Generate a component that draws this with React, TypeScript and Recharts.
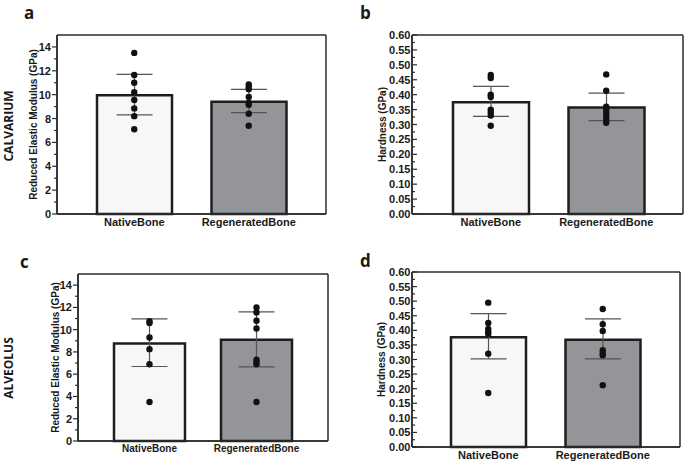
import React from "react";
import {
	ComposedChart,
	Bar,
	Scatter,
	ErrorBar,
	XAxis,
	YAxis,
	CartesianGrid,
	Cell,
} from "recharts";

const groups = ["NativeBone", "RegeneratedBone"];
const barFills = ["#f7f7f7", "#939598"];

// a - calvarium, reduced elastic modulus
const calvModMean = [9.95, 9.4];
const calvModErr = [
	[1.65, 1.75],
	[0.9, 1.05],
];
const calvModNative = [13.5, 11.65, 11.0, 10.2, 9.55, 8.85, 8.2, 7.1];
const calvModRegen = [10.85, 10.65, 10.45, 9.8, 9.3, 9.15, 8.4, 7.4];

// b - calvarium, hardness
const calvHardMean = [0.375, 0.357];
const calvHardErr = [
	[0.048, 0.053],
	[0.044, 0.048],
];
const calvHardNative = [0.466, 0.456, 0.4, 0.392, 0.35, 0.34, 0.33, 0.296];
const calvHardRegen = [0.468, 0.413, 0.36, 0.35, 0.34, 0.328, 0.317, 0.306];

// c - alveolus, reduced elastic modulus
const alvModMean = [8.76, 9.1];
const alvModErr = [
	[2.07, 2.21],
	[2.44, 2.5],
];
const alvModNative = [10.75, 10.6, 9.3, 8.25, 6.9, 3.5];
const alvModRegen = [12.0, 11.55, 10.8, 10.1, 7.3, 7.1, 6.9, 3.5];

// d - alveolus, hardness
const alvHardMean = [0.376, 0.368];
const alvHardErr = [
	[0.074, 0.081],
	[0.066, 0.071],
];
const alvHardNative = [0.495, 0.425, 0.405, 0.395, 0.388, 0.32, 0.185];
const alvHardRegen = [0.473, 0.421, 0.398, 0.332, 0.322, 0.315, 0.212];

// axis ticks
const modTicks = [0, 1, 2, 3, 4, 5, 6, 7, 8, 9, 10, 11, 12, 13, 14];
const modMajor = [0, 2, 4, 6, 8, 10, 12, 14];
const hardTicks = [
	0, 0.025, 0.05, 0.075, 0.1, 0.125, 0.15, 0.175, 0.2, 0.225, 0.25, 0.275, 0.3,
	0.325, 0.35, 0.375, 0.4, 0.425, 0.45, 0.475, 0.5, 0.525, 0.55, 0.575, 0.6,
];
const hardMajor = [
	0, 0.05, 0.1, 0.15, 0.2, 0.25, 0.3, 0.35, 0.4, 0.45, 0.5, 0.55, 0.6,
];

const INK = "#1a1a1a";
const FRAME = "#2b2b2b";
const FONT = "'Liberation Sans', Arial, sans-serif";

const makeBars = (mean: number[], err: number[][]) =>
	groups.map((g, i) => ({ name: g, value: mean[i], err: err[i] }));

const makePts = (native: number[], regen: number[]) => [
	...native.map((v) => ({ name: groups[0], value: v })),
	...regen.map((v) => ({ name: groups[1], value: v })),
];

const Dot = (props: any) => {
	if (props.cx == null || props.cy == null) return null;
	return <circle cx={props.cx} cy={props.cy} r={3.2} fill="#111" />;
};

// tick with short minor marks; inside = marks drawn into the plot
const YTick = (props: any) => {
	const { x, y, payload, major, decimals, inside } = props;
	const v = payload.value;
	const isMajor = major.some((m: number) => Math.abs(m - v) < 1e-6);
	const axisX = x + 6;
	const len = isMajor ? 5 : 3;
	const dir = inside ? 1 : -1;
	return (
		<g>
			<line
				x1={axisX}
				x2={axisX + dir * len}
				y1={y}
				y2={y}
				stroke={FRAME}
				strokeWidth={1.2}
			/>
			{isMajor && (
				<text
					x={inside ? axisX - 1.5 : x}
					y={y}
					textAnchor="end"
					dominantBaseline="central"
					fontSize={11}
					fontWeight={700}
					fontFamily={FONT}
					fill={INK}
				>
					{v.toFixed(decimals)}
				</text>
			)}
		</g>
	);
};

interface PanelProps {
	left: number;
	top: number;
	width: number;
	height: number;
	margin: { top: number; right: number; left: number; bottom: number };
	yWidth: number;
	xHeight: number;
	pad: { left: number; right: number };
	barSize: number;
	domain: [number, number];
	ticks: number[];
	major: number[];
	decimals: number;
	inside: boolean;
	label: string;
	labelX: number;
	xFont: number;
	bars: { name: string; value: number; err: number[] }[];
	pts: { name: string; value: number }[];
}

function Panel(p: PanelProps) {
	return (
		<div style={{ position: "absolute", left: p.left, top: p.top }}>
			<ComposedChart
				width={p.width}
				height={p.height}
				data={p.bars}
				margin={p.margin}
			>
				<CartesianGrid
					stroke={FRAME}
					strokeWidth={1.5}
					horizontalCoordinatesGenerator={({ offset }: any) => [
						offset.top,
						offset.top + offset.height,
					]}
					verticalCoordinatesGenerator={({ offset }: any) => [
						offset.left,
						offset.left + offset.width,
					]}
				/>
				<XAxis
					dataKey="name"
					allowDuplicatedCategory={false}
					padding={p.pad}
					height={p.xHeight}
					interval={0}
					tickLine={false}
					tickSize={0}
					tickMargin={4}
					axisLine={{ stroke: FRAME, strokeWidth: 1.5 }}
					tick={{
						fontSize: p.xFont,
						fontWeight: 700,
						fill: INK,
						fontFamily: FONT,
					}}
				/>
				<YAxis
					dataKey="value"
					type="number"
					domain={p.domain}
					ticks={p.ticks}
					width={p.yWidth}
					interval={0}
					tickLine={false}
					tickSize={5}
					tickMargin={1}
					axisLine={{ stroke: FRAME, strokeWidth: 1.5 }}
					tick={<YTick major={p.major} decimals={p.decimals} inside={p.inside} />}
					label={{
						value: p.label,
						angle: -90,
						position: "insideLeft",
						offset: p.labelX,
						style: {
							textAnchor: "middle",
							fontSize: 10,
							fontWeight: 700,
							fill: INK,
							fontFamily: FONT,
						},
					}}
				/>
				<Bar
					dataKey="value"
					barSize={p.barSize}
					stroke="#1e1e1e"
					strokeWidth={2.5}
					isAnimationActive={false}
				>
					{p.bars.map((b, i) => (
						<Cell key={b.name} fill={barFills[i]} />
					))}
					<ErrorBar
						dataKey="err"
						width={18}
						stroke="#555"
						strokeWidth={1.2}
						direction="y"
					/>
				</Bar>
				<Scatter
					data={p.pts}
					dataKey="value"
					shape={Dot}
					isAnimationActive={false}
				/>
			</ComposedChart>
		</div>
	);
}

const letterStyle = {
	fontFamily: "'Open Sans', sans-serif",
	fontWeight: 700,
	fontSize: 17,
	fill: INK,
};

const rowStyle = {
	fontFamily: "'Open Sans', sans-serif",
	fontWeight: 700,
	fontSize: 12,
	fill: INK,
};

export default function App() {
	return (
		<div
			style={{
				position: "absolute",
				left: 0,
				top: 0,
				width: 685,
				height: 461,
				background: "#fff",
				overflow: "hidden",
			}}
		>
			<Panel
				left={0}
				top={0}
				width={340}
				height={235}
				margin={{ top: 35, right: 14, left: 0, bottom: 0 }}
				yWidth={57}
				xHeight={21}
				pad={{ left: 20, right: 20 }}
				barSize={75}
				domain={[0, 15]}
				ticks={modTicks}
				major={modMajor}
				decimals={0}
				inside={false}
				label="Reduced Elastic Modulus (GPa)"
				labelX={33}
				xFont={11}
				bars={makeBars(calvModMean, calvModErr)}
				pts={makePts(calvModNative, calvModRegen)}
			/>
			<Panel
				left={340}
				top={0}
				width={345}
				height={235}
				margin={{ top: 35, right: 2, left: 0, bottom: 0 }}
				yWidth={72}
				xHeight={21}
				pad={{ left: 21, right: 19 }}
				barSize={76}
				domain={[0, 0.6]}
				ticks={hardTicks}
				major={hardMajor}
				decimals={2}
				inside={true}
				label="Hardness (GPa)"
				labelX={42}
				xFont={11}
				bars={makeBars(calvHardMean, calvHardErr)}
				pts={makePts(calvHardNative, calvHardRegen)}
			/>
			<Panel
				left={0}
				top={240}
				width={340}
				height={221}
				margin={{ top: 34, right: 12, left: 0, bottom: 0 }}
				yWidth={78}
				xHeight={20}
				pad={{ left: 18, right: 18 }}
				barSize={71}
				domain={[0, 15]}
				ticks={modTicks}
				major={modMajor}
				decimals={0}
				inside={false}
				label="Reduced Elastic Modulus (GPa)"
				labelX={55}
				xFont={10}
				bars={makeBars(alvModMean, alvModErr)}
				pts={makePts(alvModNative, alvModRegen)}
			/>
			<Panel
				left={340}
				top={237}
				width={345}
				height={224}
				margin={{ top: 35, right: 5, left: 0, bottom: 0 }}
				yWidth={72}
				xHeight={14}
				pad={{ left: 19, right: 20 }}
				barSize={75}
				domain={[0, 0.6]}
				ticks={hardTicks}
				major={hardMajor}
				decimals={2}
				inside={true}
				label="Hardness (GPa)"
				labelX={41}
				xFont={11}
				bars={makeBars(alvHardMean, alvHardErr)}
				pts={makePts(alvHardNative, alvHardRegen)}
			/>
			<svg
				width={685}
				height={461}
				style={{ position: "absolute", left: 0, top: 0, pointerEvents: "none" }}
			>
				<text x={24} y={19} style={letterStyle}>
					a
				</text>
				<text x={360} y={19} style={letterStyle}>
					b
				</text>
				<text x={20} y={268} style={letterStyle}>
					c
				</text>
				<text x={360} y={267} style={letterStyle}>
					d
				</text>
				<text
					x={8}
					y={126}
					textAnchor="middle"
					dominantBaseline="central"
					transform="rotate(-90 8 126)"
					style={rowStyle}
				>
					CALVARIUM
				</text>
				<text
					x={8}
					y={368}
					textAnchor="middle"
					dominantBaseline="central"
					transform="rotate(-90 8 368)"
					style={rowStyle}
				>
					ALVEOLUS
				</text>
			</svg>
		</div>
	);
}
